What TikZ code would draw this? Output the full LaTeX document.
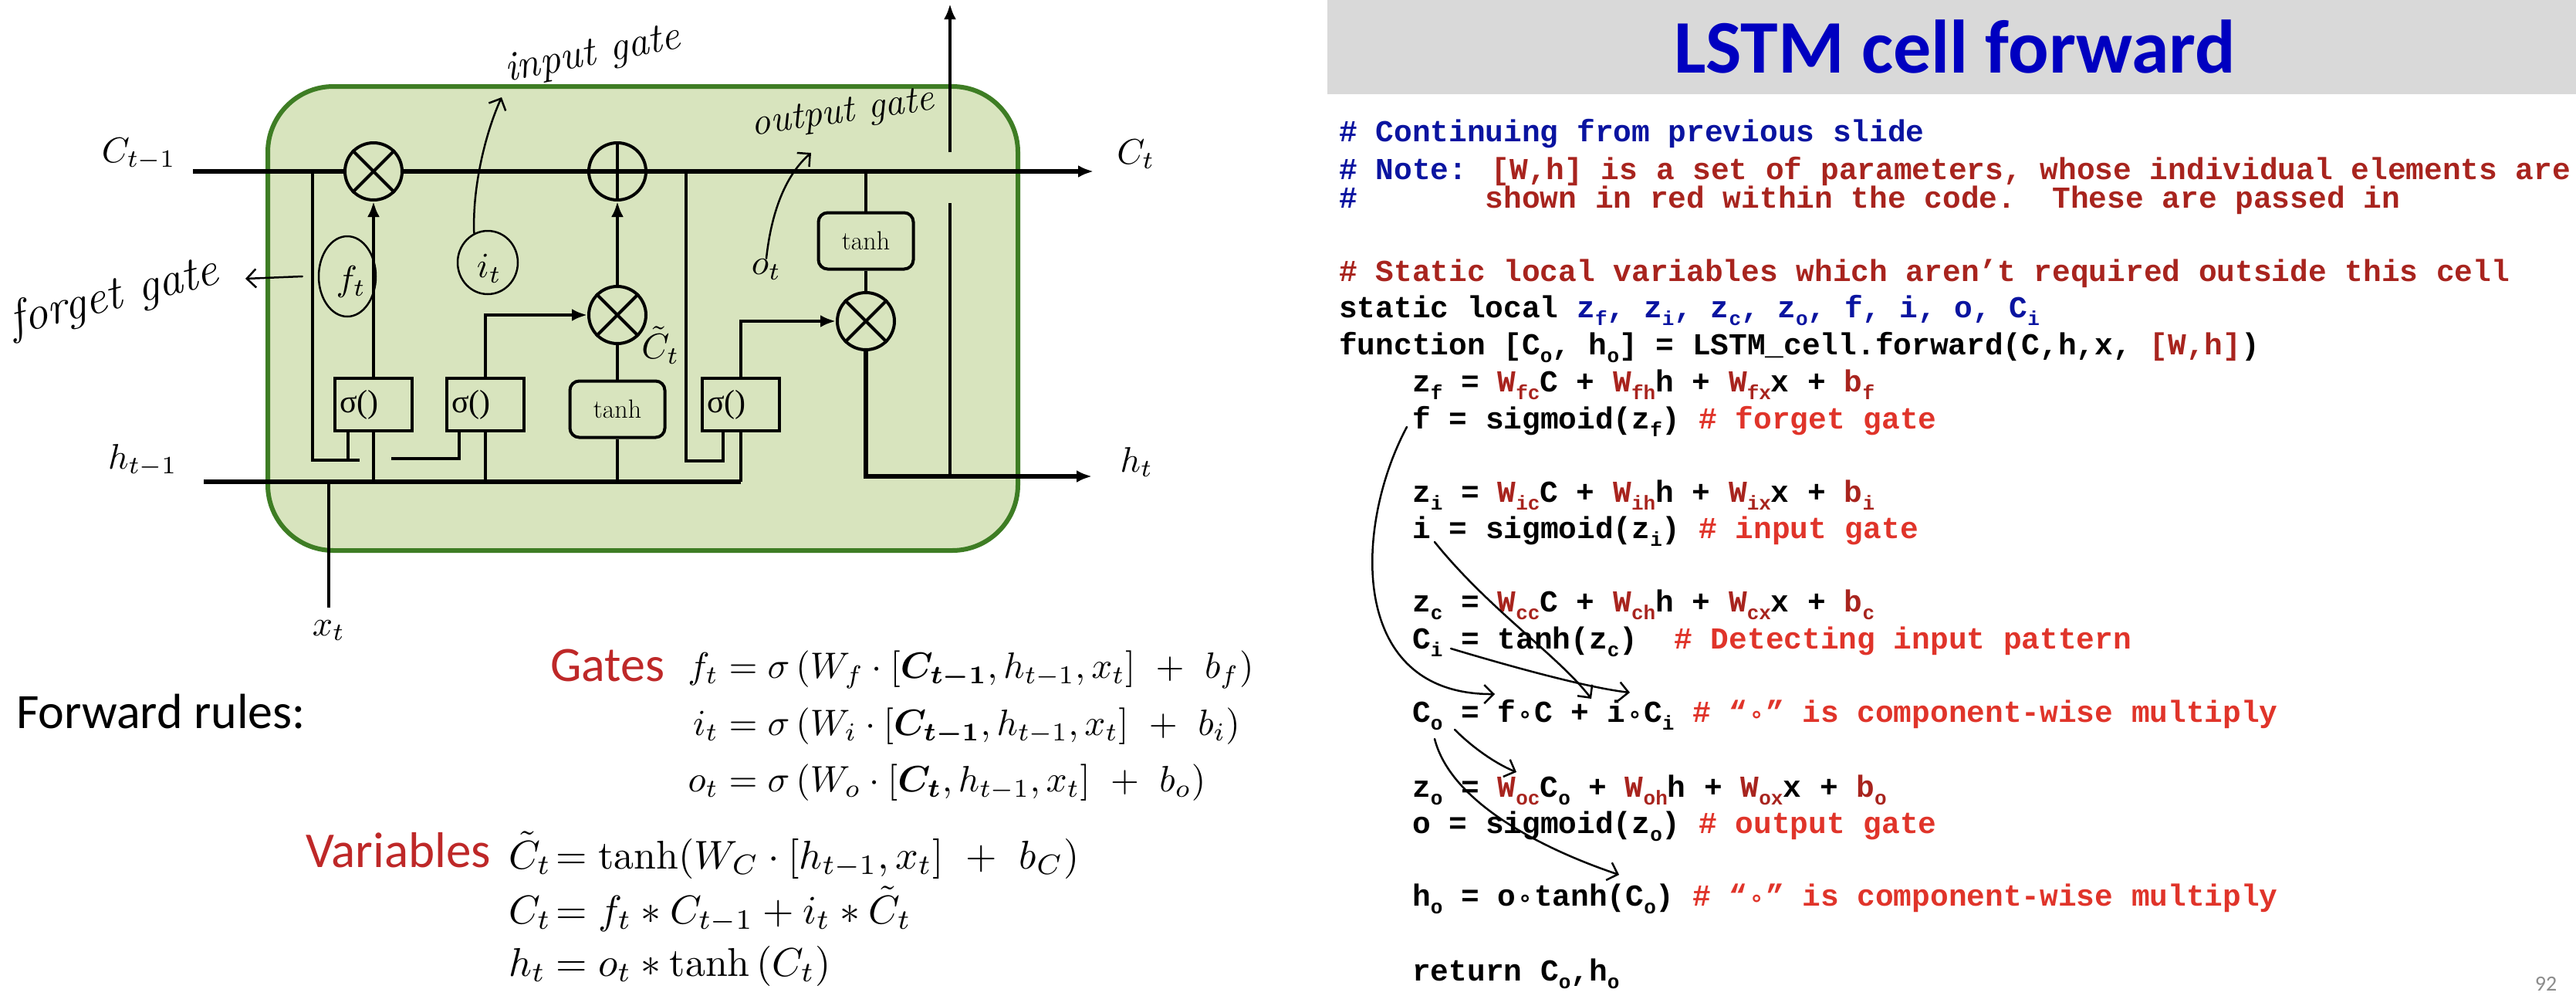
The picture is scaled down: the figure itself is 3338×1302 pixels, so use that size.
\documentclass[tikz,border=0pt]{standalone}
\usepackage{amsmath}
\usepackage{fontspec}
\usetikzlibrary{arrows.meta,shapes.geometric}
\newfontfamily\carlito{Carlito}
\newfontfamily\codefont{Liberation Mono}
\newfontfamily\serifgreek{Liberation Serif}
\newfontfamily\djv{DejaVu Sans}
\definecolor{gfill}{RGB}{216,228,190}
\definecolor{gborder}{RGB}{62,125,36}
\definecolor{hdrgray}{RGB}{217,217,217}
\definecolor{titleblue}{RGB}{0,0,192}
\definecolor{cblue}{RGB}{10,20,160}
\definecolor{cdred}{RGB}{168,36,30}
\definecolor{cred}{RGB}{224,52,42}
\definecolor{lblred}{RGB}{190,40,40}
\definecolor{pgnum}{RGB}{140,140,140}
\newcommand\CS[1]{\raisebox{-10pt}{\fontsize{26}{26}\selectfont #1}}
\newcommand\WR[1]{{\color{cdred}#1}}
\newcommand\RB[1]{{\color{cred}#1}}
\newcommand\CM{\makebox[23.7pt]{\fontsize{30}{30}\selectfont\djv ∘}}
\tikzset{
  cellbox/.style={draw=gborder, fill=gfill, line width=6pt, rounded corners=85pt, minimum width=972pt, minimum height=601pt, inner sep=0pt},
  wire/.style={line width=4pt},
  bus/.style={line width=6pt},
  arr/.style={-{Latex[length=20pt,width=16pt]}},
  gatebox/.style={draw, line width=4pt, fill=gfill, minimum width=100pt, minimum height=68pt, inner sep=0pt, font=\fontsize{42}{42}\selectfont\serifgreek},
  tanhbox/.style={draw, line width=4pt, fill=gfill, rounded corners=12pt, minimum width=123pt, minimum height=73pt, inner sep=0pt, font=\fontsize{34}{34}\selectfont},
  opcirc/.style={draw, circle, line width=4pt, fill=gfill, minimum size=74pt, inner sep=0pt},
  mlabel/.style={font=\fontsize{10}{10}\selectfont, scale=4.6, inner sep=0pt},
  handring/.style={draw, ellipse, line width=2.5pt, inner sep=0pt},
  handline/.style={line width=2.5pt, line cap=round},
  handtip/.style={-{Straight Barb[length=12pt,width=24pt]}},
  handtext/.style={font=\fontsize{54}{54}\selectfont\itshape, inner sep=0pt},
  code/.style={anchor=base west, inner sep=0pt, font=\fontsize{39.5}{40}\selectfont\codefont\bfseries},
  eq/.style={anchor=base west, inner sep=0pt, font=\fontsize{10}{10}\selectfont, scale=4.75},
  eqb/.style={anchor=base west, inner sep=0pt, font=\fontsize{10}{10}\selectfont, scale=5.2},
  slidetext/.style={anchor=base west, inner sep=0pt, font=\fontsize{64}{64}\selectfont\carlito}
}
\begin{document}
\begin{tikzpicture}[x=1pt,y=-1pt]
\fill[white] (0,0) rectangle (3338,1302);
\useasboundingbox (0,0) rectangle (3338,1302);

% ---------- header of right half
\fill[hdrgray] (1720,0) rectangle (3338,122);
\node[anchor=base, inner sep=0pt, font=\fontsize{98}{98}\selectfont\carlito\bfseries, text=titleblue] (title) at (2533,94) {LSTM cell forward};

% ---------- LSTM cell
\node[cellbox] (cell) at (833,412.5) {};
\coordinate (cin) at (250,222);
\coordinate (cout) at (1417,222);
\coordinate (hin) at (264,624);
\coordinate (hend) at (960,624);
\coordinate (xj) at (426,624);
\coordinate (xin) at (426,787);
\coordinate (hout) at (1415,617);
\coordinate (hupj) at (1231,617);
\coordinate (hupa) at (1231,263);
\coordinate (hupb) at (1231,197);
\coordinate (hupt) at (1231,5);

\node[opcirc] (fx) at (484,222) {};
\node[opcirc] (pl) at (800,222) {};
\node[opcirc] (cx) at (800,408) {};
\node[opcirc] (ox) at (1122,416) {};
\node[gatebox] (s1) at (484,524) {\makebox[88pt][l]{σ()}};
\node[gatebox] (s2) at (629,524) {\makebox[88pt][l]{σ()}};
\node[tanhbox] (t1) at (800,530) {tanh};
\node[gatebox] (s3) at (960,524) {\makebox[88pt][l]{σ()}};
\node[tanhbox] (t2) at (1122,312) {tanh};

% cell state line
\draw[bus] (cin) -- (fx);
\draw[bus] (fx) -- (pl);
\draw[bus, arr] (pl) -- (cout);
\draw[bus] (pl.west) -- (pl.east);
\draw[wire] (pl.north) -- (pl.south);
\draw[wire] (fx.north west) -- (fx.south east);
\draw[wire] (fx.north east) -- (fx.south west);
\draw[wire] (cx.north west) -- (cx.south east);
\draw[wire] (cx.north east) -- (cx.south west);
\draw[wire] (ox.north west) -- (ox.south east);
\draw[wire] (ox.north east) -- (ox.south west);

% hidden state input line
\draw[bus] (hin) -- (hend);
\draw[wire] (xj) -- (xin);
\draw[wire] (s1 |- hin) -- (s1.south);
\draw[wire] (s2 |- hin) -- (s2.south);
\draw[wire] (t1 |- hin) -- (t1.south);
\draw[wire] (hend) -- (s3.south);

% gate connections
\draw[wire, arr] (s1.north) -- (fx.south);
\draw[wire, arr] (s2.north) |- (cx.west);
\draw[wire] (t1.north) -- (cx.south);
\draw[wire, arr] (cx.north) -- (pl.south);
\draw[wire] (t2.north |- cin) -- (t2.north);
\draw[wire] (t2.south) -- (ox.north);
\draw[wire, arr] (s3.north) |- (ox.west);
\draw[bus, arr] (ox.south) |- (hout);
\draw[wire] (hupj) -- (hupa);
\draw[wire, arr] (hupb) -- (hupt);

% peephole connections
\coordinate (p1a) at (405,222);
\coordinate (p1b) at (405,596);
\coordinate (p1c) at (466,596);
\draw[wire] (p1a) -- (p1b) -- (p1c);
\draw[wire] ([xshift=-33pt]s1.south) -- ([xshift=-33pt]s1.south |- p1c);
\coordinate (p2a) at (507,594);
\draw[wire] (p2a) -| ([xshift=-34pt]s2.south);
\coordinate (p3a) at (889,222);
\coordinate (p3b) at (889,597);
\draw[wire] (p3a) -- (p3b) -| ([xshift=-23pt]s3.south);

% labels
\node[mlabel, anchor=base] (lCin) at (180,210) {$C_{t-1}$};
\node[mlabel, anchor=base] (lhin) at (185,607) {$h_{t-1}$};
\node[mlabel, anchor=base] (lCout) at (1472,212) {$C_t$};
\node[mlabel, anchor=base] (lhout) at (1473,611) {$h_t$};
\node[mlabel, anchor=base] (lx) at (426,823) {$x_t$};
\node[mlabel] (lct) at (856,447) {$\tilde{C}_t$};
\node[mlabel] (lot) at (993,349) {$o_t$};
\node[handring, minimum width=74pt, minimum height=104pt] (fring) at (450,358) {};
\node[mlabel] (lft) at (455,365) {$f_t$};
\node[handring, minimum width=78pt, minimum height=82pt] (iring) at (632,340) {};
\node[mlabel] (lit) at (634,348) {$i_t$};

% handwritten notes
\node[handtext, rotate=11] (igt) at (768,72) {input gate};
\node[handtext, rotate=8, font=\fontsize{50}{50}\selectfont\itshape] (ogt) at (1092,148) {output gate};
\node[handtext, rotate=14, font=\fontsize{62}{62}\selectfont\itshape] (fgt) at (148,385) {forget gate};
\coordinate (ftip) at (318,361);
\draw[handline, handtip] ([xshift=-20pt]fring.west) -- (ftip);
\coordinate (itip) at (650,126);
\draw[handline, handtip] (iring.115) .. controls (612,240) and (630,170) .. (itip);
\coordinate (otip) at (1051,198);
\draw[handline, handtip] (lot.north) .. controls (1000,270) and (1020,225) .. (otip);

% ---------- forward rules
\node[slidetext] (fr) at (21,943) {Forward rules:};
\node[slidetext, text=lblred] (gates) at (713,882) {Gates};
\node[slidetext, text=lblred, font=\fontsize{65}{65}\selectfont\carlito] (vars) at (396,1123) {Variables};
\node[eq] (e1) at (890,878) {$\makebox[0.85em][r]{$f_t$}=\sigma\left(W_f\cdot[\boldsymbol{C_{t-1}},h_{t-1},x_t]\ +\ b_f\right)$};
\node[eq] (e2) at (890,952) {$\makebox[0.85em][r]{$i_t$}=\sigma\left(W_i\cdot[\boldsymbol{C_{t-1}},h_{t-1},x_t]\ +\ b_i\right)$};
\node[eq] (e3) at (890,1025) {$\makebox[0.85em][r]{$o_t$}=\sigma\left(W_o\cdot[\boldsymbol{C_t},h_{t-1},x_t]\ +\ b_o\right)$};
\node[eqb] (e4) at (658,1125) {$\makebox[0.9em][l]{$\tilde{C}_t$}=\tanh(W_C\cdot[h_{t-1},x_t]\ +\ b_C)$};
\node[eqb] (e5) at (658,1196) {$\makebox[0.9em][l]{$C_t$}=f_t*C_{t-1}+i_t*\tilde{C}_t$};
\node[eqb] (e6) at (658,1264) {$\makebox[0.9em][l]{$h_t$}=o_t*\tanh\left(C_t\right)$};

% ---------- code
\node[code] (c1) at (1735,183) {\color{cblue}\# Continuing from previous slide};
\node[code] (c2) at (1735,232) {{\color{cblue}\# Note: }\WR{[W,h] is a set of parameters, whose individual elements are}};
\node[code] (c3) at (1735,269) {{\color{cblue}\#\ \ \ \ \ \ \ }\WR{shown in red within the code.\ \ These are passed in}};
\node[code] (c4) at (1735,364) {\WR{\# Static local variables which aren’t required outside this cell}};
\node[code] (c5) at (1735,411) {static local {\color{cblue}z\CS{f}, z\CS{i}, z\CS{c}, z\CS{o}, f, i, o, C\CS{i}}};
\node[code] (c6) at (1735,459) {function [C\CS{o}, h\CS{o}] = LSTM\_cell.forward(C,h,x, \WR{[W,h]})};
\node[code] (c7) at (1830,507) {z\CS{f} = \WR{W\CS{fc}}C + \WR{W\CS{fh}}h + \WR{W\CS{fx}}x + \WR{b\CS{f}}};
\node[code] (c8) at (1830,555) {f = sigmoid(z\CS{f}) \RB{\# forget gate}};
\node[code] (c9) at (1830,650) {z\CS{i} = \WR{W\CS{ic}}C + \WR{W\CS{ih}}h + \WR{W\CS{ix}}x + \WR{b\CS{i}}};
\node[code] (c10) at (1830,697) {i = sigmoid(z\CS{i}) \RB{\# input gate}};
\node[code] (c11) at (1830,792) {z\CS{c} = \WR{W\CS{cc}}C + \WR{W\CS{ch}}h + \WR{W\CS{cx}}x + \WR{b\CS{c}}};
\node[code] (c12) at (1830,840) {C\CS{i} = tanh(z\CS{c})\ \ \RB{\# Detecting input pattern}};
\node[code] (c13) at (1830,935) {C\CS{o} = f\CM C + i\CM C\CS{i} \RB{\# “\CM” is component-wise multiply}};
\node[code] (c14) at (1830,1032) {z\CS{o} = \WR{W\CS{oc}}C\CS{o} + \WR{W\CS{oh}}h + \WR{W\CS{ox}}x + \WR{b\CS{o}}};
\node[code] (c15) at (1830,1079) {o = sigmoid(z\CS{o}) \RB{\# output gate}};
\node[code] (c16) at (1830,1173) {h\CS{o} = o\CM tanh(C\CS{o}) \RB{\# “\CM” is component-wise multiply}};
\node[code] (c17) at (1830,1270) {return C\CS{o},h\CS{o}};

% handwritten arrows over the code
\coordinate (fsrc) at (1823,553);
\coordinate (fdst) at (1937,899);
\draw[handline, handtip] (fsrc) .. controls (1755,680) and (1745,900) .. (fdst);
\coordinate (isrc) at (1859,702);
\coordinate (idst) at (2062,905);
\draw[handline, handtip] (isrc) .. controls (1930,790) and (2020,850) .. (idst);
\coordinate (csrc) at (1880,840);
\coordinate (cdst) at (2112,897);
\draw[handline, handtip] (csrc) .. controls (1930,855) and (2050,890) .. (cdst);
\coordinate (osrc) at (1885,945);
\coordinate (odst) at (1965,1000);
\draw[handline, handtip] (osrc) .. controls (1910,970) and (1940,990) .. (odst);
\coordinate (hsrc) at (1859,957);
\coordinate (hdst) at (2098,1133);
\draw[handline, handtip] (hsrc) .. controls (1880,1040) and (2000,1100) .. (hdst);

% page number
\node[anchor=base, inner sep=0pt, font=\fontsize{28}{28}\selectfont\carlito, text=pgnum] (pg) at (3299,1283) {92};
\end{tikzpicture}
\end{document}
